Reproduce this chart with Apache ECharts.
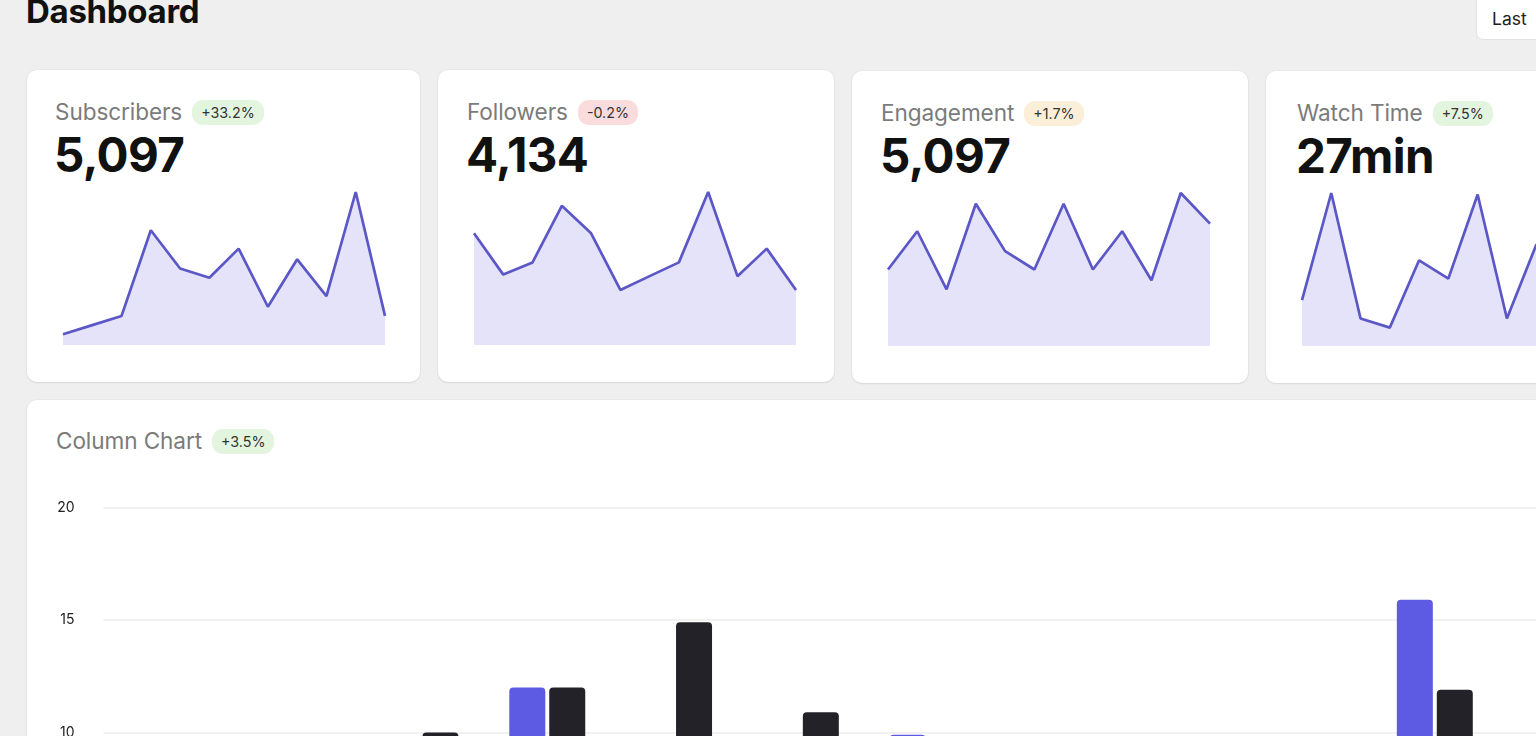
<!DOCTYPE html>
<html>
<head>
<meta charset="utf-8">
<script src="https://cdn.jsdelivr.net/npm/echarts@6/dist/echarts.min.js"></script>
<style>
  html, body { margin:0; padding:0; width:1536px; height:736px; overflow:hidden; background:#efefef; font-family: Inter, "Noto Sans", sans-serif; }
  .abs { position:absolute; }
  .title { left:26px; top:-8px; font-size:33px; line-height:38px; font-weight:700; color:#111; letter-spacing:-0.3px; }
  .btn { left:1476px; top:-8px; width:120px; height:48px; background:#fff; border:1px solid #e2e2e2; border-radius:7px; box-sizing:border-box; }
  .btn span { position:absolute; left:15px; top:16px; font-size:17.5px; line-height:20px; color:#222; }
  .card { background:#fff; border-radius:10px; box-shadow:0 1px 2px rgba(0,0,0,0.08), 0 0 0 1px rgba(0,0,0,0.025); }
  .head { position:absolute; left:28px; top:29px; display:flex; align-items:center; height:26px; }
  .head .lbl { font-size:22.6px; color:#7b7b7b; line-height:26px; letter-spacing:-0.1px; }
  .badge { margin-left:10px; height:25px; line-height:25px; padding:0 9px; border-radius:11px; font-size:14.3px; color:#333; }
  .green { background:#e3f5df; }
  .red { background:#fbdcdc; }
  .orange { background:#fcefd9; }
  .num { position:absolute; left:27px; top:55px; font-size:47.5px; line-height:60px; font-weight:700; color:#111; letter-spacing:-0.6px; }
  .spark { position:absolute; left:26px; top:110px; width:342px; height:180px; }
</style>
</head>
<body>
<div class="abs title">Dashboard</div>
<div class="abs btn"><span>Last</span></div>

<div id="cards"></div>

<div class="abs card" style="left:27px; top:400px; width:1634px; height:700px;">
  <div class="head" style="left:29px; top:28px;"><span class="lbl">Column Chart</span><span class="badge green">+3.5%</span></div>
  <div id="bars" style="position:absolute; left:0; top:0; width:1634px; height:640px;"></div>
</div>

<script>
// ---- data ----
const sparkIndex = ['1','2','3','4','5','6','7','8','9','10','11','12'];
const subscribers = [7, 13, 19, 75, 50, 44, 63, 25, 56, 32, 100, 19];
const followers   = [73, 46, 54, 91, 73, 36, 45, 54, 100, 45, 63, 36];
const engagement  = [50, 75, 37, 93, 62, 50, 93, 50, 75, 43, 100, 80];
const watchTime   = [30, 100, 18, 12, 56, 44, 99, 18, 66, 80, 45, 60];

const cardTitles = ['Subscribers', 'Followers', 'Engagement', 'Watch Time'];
const cardValues = ['5,097', '4,134', '5,097', '27min'];
const cardBadges = ['+33.2%', '-0.2%', '+1.7%', '+7.5%'];

const months = ['Jan','Feb','Mar','Apr','May','Jun','Jul','Aug','Sep','Oct','Nov','Dec'];
const seriesPurple = [6, 8, 8, 12, 7, 9, 9.9, 7, 5, 8, 15.9, 9];
const seriesDark   = [8, 7, 10, 12, 14.9, 10.9, 6, 8, 7, 9, 11.9, 10];
const yTicks = [0, 5, 10, 15, 20];

// ---- layout ----
const sparkData = [subscribers, followers, engagement, watchTime];
const cardLeft = [27, 438, 852, 1266];
const cardTop = [70, 70, 71, 71];
const textPad = [28, 29, 29, 31];
const badgeClass = ['green', 'red', 'orange', 'green'];
const cardsEl = document.getElementById('cards');
sparkData.forEach((d, i) => {
  const c = document.createElement('div');
  c.className = 'abs card';
  c.style.left = cardLeft[i] + 'px';
  c.style.top = cardTop[i] + 'px';
  c.style.width = (i === 0 ? 393 : 396) + 'px';
  c.style.height = '312px';
  c.innerHTML = '<div class="head" style="left:' + textPad[i] + 'px"><span class="lbl">' + cardTitles[i] + '</span><span class="badge ' + badgeClass[i] + '">' + cardBadges[i] + '</span></div>' +
    '<div class="num" style="left:' + (textPad[i] - 1) + 'px">' + cardValues[i] + '</div><div class="spark"></div>';
  cardsEl.appendChild(c);
  const ch = echarts.init(c.querySelector('.spark'), null, { renderer: 'canvas' });
  ch.setOption({
    animation: false,
    grid: { left: 10, right: 10, top: 12, bottom: 15 },
    xAxis: { type: 'category', data: sparkIndex, boundaryGap: false, show: false },
    yAxis: { type: 'value', min: 0, max: 'dataMax', show: false },
    series: [{
      type: 'line', data: d, symbol: 'none',
      lineStyle: { color: '#5c57c6', width: 2.7 },
      areaStyle: { color: '#e5e3f9', opacity: 1 }
    }]
  });
});

const bars = echarts.init(document.getElementById('bars'));
bars.setOption({
  animation: false,
  grid: { left: 76.5, right: 36, top: 107.5, bottom: 82.5 },
  xAxis: {
    type: 'category', data: months,
    axisLine: { show: false }, axisTick: { show: false },
    axisLabel: { color: '#333', fontSize: 14, fontFamily: 'Inter' }
  },
  yAxis: {
    type: 'value', min: yTicks[0], max: yTicks[yTicks.length - 1], interval: 5,
    axisLine: { show: false }, axisTick: { show: false },
    axisLabel: { color: '#222', fontSize: 14, fontFamily: 'Inter', margin: 29 },
    splitLine: { lineStyle: { color: '#ececec', width: 1.5 } }
  },
  series: [
    { type: 'bar', data: seriesPurple, barWidth: 36, barGap: '11%',
      itemStyle: { color: '#5d5be3', borderRadius: [4, 4, 0, 0] } },
    { type: 'bar', data: seriesDark, barWidth: 36, barGap: '11%',
      itemStyle: { color: '#232228', borderRadius: [4, 4, 0, 0] } }
  ]
});
</script>
</body>
</html>
